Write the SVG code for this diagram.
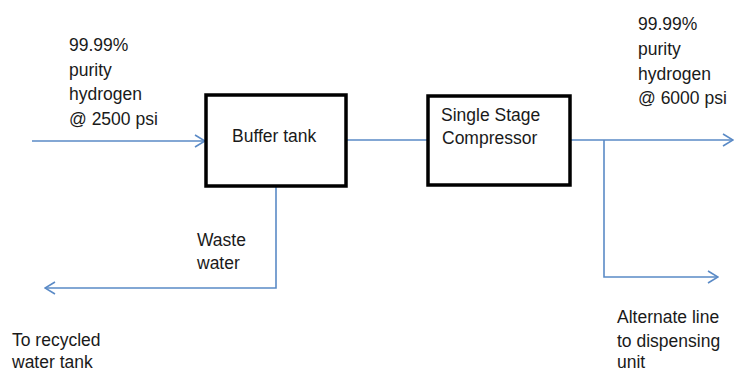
<svg xmlns="http://www.w3.org/2000/svg" width="741" height="373" viewBox="0 0 741 373">
<style>
.t{font-family:"Liberation Sans",Arial,sans-serif;font-size:17.5px;fill:#1a1a1a}
.box{fill:#fff;stroke:#000;stroke-width:3.5}
.ln{fill:none;stroke:#5a8ac6;stroke-width:1.6}
</style>
<defs>
<marker id="ah" viewBox="0 0 12 14" refX="11" refY="7" markerWidth="12" markerHeight="14" markerUnits="userSpaceOnUse" orient="auto">
<path d="M1,1 L11,7 L1,13" fill="none" stroke="#5a8ac6" stroke-width="1.6"/>
</marker>
</defs>
<rect width="741" height="373" fill="#fff"/>
<g id="connectors">
<path class="ln" d="M32,141 H205" marker-end="url(#ah)"/>
<path class="ln" d="M346,140 H427"/>
<path class="ln" d="M570,140 H733" marker-end="url(#ah)"/>
<path class="ln" d="M604,140 V277 H718" marker-end="url(#ah)"/>
<path class="ln" d="M276,187 V288 H45" marker-end="url(#ah)"/>
</g>
<g id="buffer-tank">
<rect class="box" x="206" y="95" width="140" height="91"/>
<text class="t" x="232" y="142">Buffer tank</text>
</g>
<g id="compressor">
<rect class="box" x="428" y="96" width="142" height="89"/>
<text class="t" x="441" y="121">Single Stage</text>
<text class="t" x="442" y="144">Compressor</text>
</g>
<g id="labels">
<text class="t" x="69" y="51">99.99%</text>
<text class="t" x="69" y="76">purity</text>
<text class="t" x="69" y="100">hydrogen</text>
<text class="t" x="69" y="125">@ 2500 psi</text>
<text class="t" x="638" y="30">99.99%</text>
<text class="t" x="638" y="55">purity</text>
<text class="t" x="638" y="80">hydrogen</text>
<text class="t" x="638" y="104">@ 6000 psi</text>
<text class="t" x="197" y="246">Waste</text>
<text class="t" x="197" y="269">water</text>
<text class="t" x="12" y="346">To recycled</text>
<text class="t" x="12" y="368">water tank</text>
<text class="t" x="617" y="323">Alternate line</text>
<text class="t" x="617" y="347">to dispensing</text>
<text class="t" x="617" y="368">unit</text>
</g>
</svg>
